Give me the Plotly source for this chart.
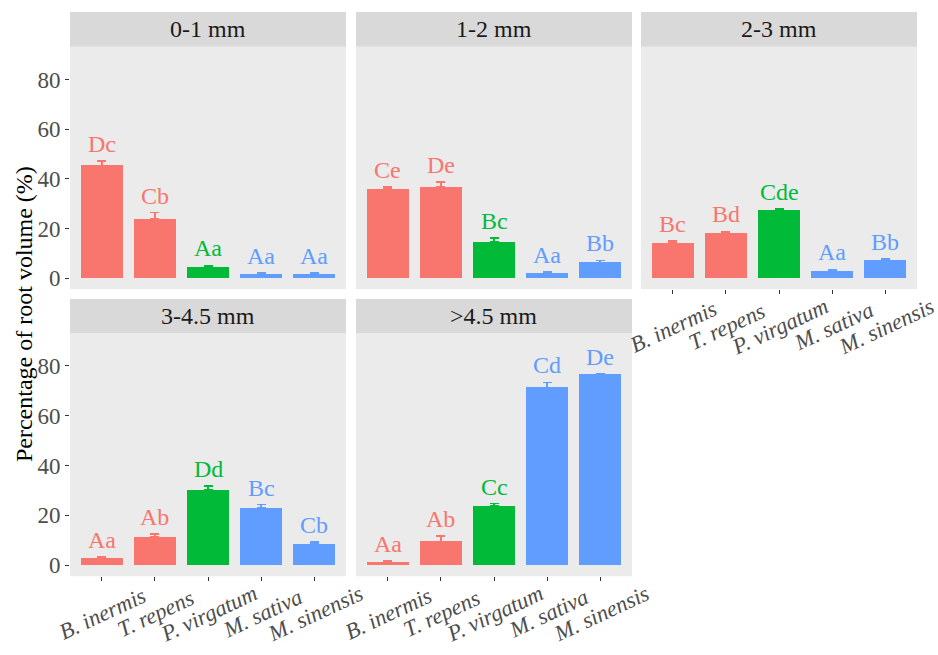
import plotly.graph_objects as go

# Root volume share by diameter class, per species
classes = ["0-1 mm", "1-2 mm", "2-3 mm", "3-4.5 mm", ">4.5 mm"]
species = ["B. inermis", "T. repens", "P. virgatum", "M. sativa", "M. sinensis"]
groups = ["r", "r", "g", "b", "b"]

mean_01 = [45.5, 24.0, 4.5, 1.6, 1.6]
se_01 = [1.7, 2.4, 0.7, 0.4, 0.4]
lab_01 = ["Dc", "Cb", "Aa", "Aa", "Aa"]

mean_12 = [35.9, 36.9, 14.5, 2.0, 6.4]
se_12 = [0.8, 1.8, 1.6, 0.4, 0.8]
lab_12 = ["Ce", "De", "Bc", "Aa", "Bb"]

mean_23 = [14.2, 18.2, 27.6, 2.8, 7.2]
se_23 = [0.8, 0.7, 0.3, 0.8, 0.6]
lab_23 = ["Bc", "Bd", "Cde", "Aa", "Bb"]

mean_345 = [3.1, 11.5, 30.3, 23.1, 8.5]
se_345 = [0.3, 1.1, 1.6, 1.2, 0.9]
lab_345 = ["Aa", "Ab", "Dd", "Bc", "Cb"]

mean_45 = [1.2, 9.6, 23.8, 71.4, 76.7]
se_45 = [0.5, 2.2, 0.9, 2.0, 0.2]
lab_45 = ["Aa", "Ab", "Cc", "Cd", "De"]

y_ticks = [0, 20, 40, 60, 80]
y_title = "Percentage of root volume (%)"

colors = {"r": "#F8766D", "g": "#00BA38", "b": "#619CFF"}

means = [mean_01, mean_12, mean_23, mean_345, mean_45]
ses = [se_01, se_12, se_23, se_345, se_45]
labels = [lab_01, lab_12, lab_23, lab_345, lab_45]

W, H = 938, 655
FONT = "Liberation Serif"

# panel placement in pixels: (left, right, top, bottom)
col_x = [(70, 346), (356, 632), (641, 917)]
row_y = [(47, 290), (334, 578)]
strip_h = [35, 34]
cells = [(0, 0), (0, 1), (0, 2), (1, 0), (1, 1)]
show_x = [False, False, True, True, True]
show_y = [True, False, False, True, False]

fig = go.Figure()
layout = {}
shapes = []
annotations = []

for i, (r, c) in enumerate(cells):
    n = i + 1
    xs = "" if n == 1 else str(n)
    xa, ya = "x" + xs, "y" + xs
    x0, x1 = col_x[c]
    y0, y1 = row_y[r]
    xdom = [x0 / W, x1 / W]
    ydom = [1 - y1 / H, 1 - y0 / H]

    for g in ["r", "g", "b"]:
        idx = [k for k in range(5) if groups[k] == g]
        fig.add_trace(go.Bar(
            x=[species[k] for k in idx],
            y=[means[i][k] for k in idx],
            width=0.8,
            marker=dict(color=colors[g], line=dict(width=0)),
            error_y=dict(type="data", symmetric=False,
                         array=[ses[i][k] for k in idx],
                         arrayminus=[0] * len(idx),
                         color=colors[g], thickness=1.5, width=4.5),
            xaxis=xa, yaxis=ya, showlegend=False,
        ))

    for k in range(5):
        annotations.append(dict(
            x=species[k], y=means[i][k] + ses[i][k], xref=xa, yref=ya,
            text=labels[i][k], showarrow=False, yanchor="middle", yshift=17,
            font=dict(family=FONT, size=24, color=colors[groups[k]]),
        ))

    layout["xaxis" + xs] = dict(
        domain=xdom, anchor=ya, type="category", categoryorder="array",
        categoryarray=species, range=[-0.6, 4.6], showgrid=False,
        zeroline=False, showline=False, showticklabels=False,
        ticks="outside" if show_x[i] else "", ticklen=4, tickcolor="#333333",
        tickwidth=1.1, fixedrange=True,
    )
    layout["yaxis" + xs] = dict(
        domain=ydom, anchor=xa, range=[-4.4, 93.2], showgrid=False,
        zeroline=False, showline=False, tickvals=y_ticks,
        showticklabels=show_y[i], ticks="outside" if show_y[i] else "",
        ticklen=4, tickcolor="#333333", tickwidth=1.1,
        tickfont=dict(family=FONT, size=23, color="#4D4D4D"),
    )

    # facet strip
    sy0 = y0 - strip_h[r]
    shapes.append(dict(type="rect", xref="paper", yref="paper",
                       x0=x0 / W, x1=x1 / W, y0=1 - y0 / H, y1=1 - sy0 / H,
                       fillcolor="#D9D9D9", line=dict(width=0), layer="below"))
    annotations.append(dict(
        x=(x0 + x1) / 2 / W, y=1 - (sy0 + y0) / 2 / H, xref="paper", yref="paper",
        text=classes[i], showarrow=False, xanchor="center", yanchor="middle",
        font=dict(family=FONT, size=24, color="#1A1A1A"),
    ))

    # rotated species labels under the bottom panels
    if show_x[i]:
        for k in range(5):
            annotations.append(dict(
                x=species[k], y=0, xref=xa, yref=ya + " domain",
                text="<i>" + species[k] + "</i>", showarrow=False,
                textangle=-25, xanchor="center", yanchor="middle",
                xshift=1, yshift=-37,
                font=dict(family=FONT, size=22.5, color="#4D4D4D"),
            ))

annotations.append(dict(
    x=24 / W, y=1 - 315 / H, xref="paper", yref="paper", text=y_title,
    showarrow=False, textangle=-90, xanchor="center", yanchor="middle",
    font=dict(family=FONT, size=24, color="#000000"),
))

fig.update_layout(
    width=W, height=H, margin=dict(l=0, r=0, t=0, b=0),
    paper_bgcolor="white", plot_bgcolor="#EBEBEB",
    barmode="overlay", bargap=0, shapes=shapes, annotations=annotations,
    font=dict(family=FONT), **layout,
)

fig.write_html("out.html")
